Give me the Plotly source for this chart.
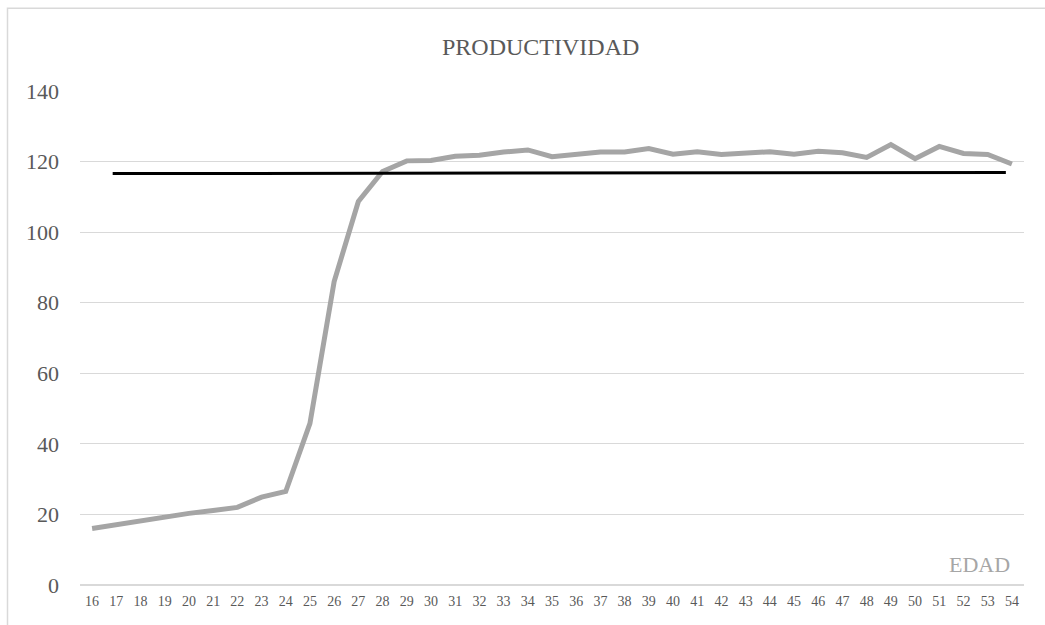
import plotly.graph_objects as go

# Edad (años) y productividad observada
edad = list(range(16, 55))
productividad = [
    16.0, 17.1, 18.2, 19.4, 20.3, 21.1, 22.0, 24.9, 26.5, 45.8,
    86.0, 108.7, 117.2, 120.2, 120.3, 121.5, 121.8, 122.7, 123.3, 121.4,
    121.9, 122.7, 122.7, 123.7, 122.1, 122.8, 122.0, 122.3, 122.8, 122.1,
    122.9, 122.5, 121.2, 124.8, 120.8, 124.3, 122.3, 122.0, 119.3,
]

# Línea de referencia (nivel medio)
ref_x = [16.85, 53.75]
ref_y = [116.6, 116.9]

y_ticks = [0, 20, 40, 60, 80, 100, 120, 140]

fig = go.Figure()
fig.add_trace(go.Scatter(
    x=edad, y=productividad, mode="lines",
    line=dict(color="#a5a5a5", width=5),
    hoverinfo="x+y", showlegend=False,
))
fig.add_trace(go.Scatter(
    x=ref_x, y=ref_y, mode="lines",
    line=dict(color="#000000", width=3),
    hoverinfo="skip", showlegend=False,
))

serif = "Liberation Serif, Times New Roman, serif"

fig.update_layout(
    width=1045, height=625,
    margin=dict(l=80, r=21, t=91, b=40),
    paper_bgcolor="white", plot_bgcolor="white",
    font=dict(family=serif, color="#595959"),
    xaxis=dict(
        range=[15.5, 54.5],
        tickmode="array", tickvals=edad, ticktext=[str(v) for v in edad],
        tickfont=dict(size=14, color="#595959"),
        showgrid=False, zeroline=False,
        showline=False, ticks="", ticklabelstandoff=6,
        fixedrange=True,
    ),
    yaxis=dict(
        range=[0, 140],
        tickmode="array", tickvals=y_ticks,
        tickfont=dict(size=22, color="#595959"),
        showgrid=True, gridcolor="#d9d9d9", gridwidth=1,
        zeroline=True, zerolinecolor="#d9d9d9", zerolinewidth=1.5,
        showline=False, ticks="", ticklabelstandoff=20,
        fixedrange=True,
    ),
    annotations=[
        dict(text="PRODUCTIVIDAD", xref="paper", yref="paper",
             x=0.488, y=1.0897, xanchor="center", yanchor="middle",
             showarrow=False, font=dict(size=24, color="#595959", family=serif)),
        dict(text="EDAD", xref="paper", yref="paper",
             x=0.953, y=0.041, xanchor="center", yanchor="middle",
             showarrow=False, font=dict(size=22, color="#a6a6a6", family=serif)),
    ],
    shapes=[
        dict(type="rect", xref="paper", yref="paper",
             x0=-0.0768, x1=1.04, y0=-0.1, y1=1.1676,
             line=dict(color="#d9d9d9", width=1.5), fillcolor="rgba(0,0,0,0)",
             layer="below"),
    ],
)

fig.write_html("out.html")
